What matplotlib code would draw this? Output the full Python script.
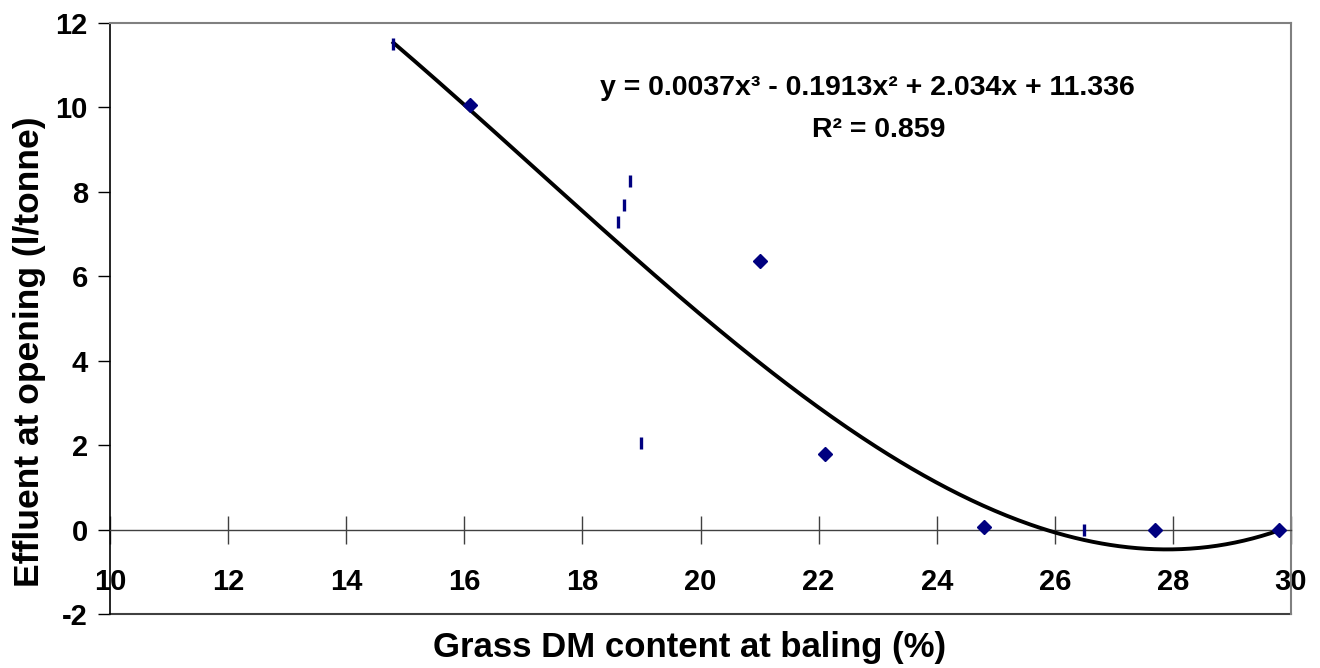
import numpy as np
import matplotlib
matplotlib.use("Agg")
import matplotlib.pyplot as plt

plt.rcParams['font.family'] = ['Liberation Sans', 'DejaVu Sans']
plt.rcParams['font.weight'] = 'bold'
plt.rcParams['axes.unicode_minus'] = False

# diamond points (x = grass DM %, y = effluent l/tonne)
dm_diamond = [16.1, 21.0, 22.1, 24.8, 27.7, 29.8]
eff_diamond = [10.05, 6.36, 1.80, 0.07, 0.0, 0.0]

# points drawn as short vertical marks in the original
dm_bar = [14.8, 18.6, 18.7, 18.8, 19.0, 26.5]
eff_bar = [11.5, 7.28, 7.68, 8.25, 2.06, 0.0]

# trendline y = a x^3 + b x^2 + c x + d
trend_coef = [0.0037, -0.1913, 2.034, 11.336]
trend_range = [14.8, 29.8]

x_ticks = [10, 12, 14, 16, 18, 20, 22, 24, 26, 28, 30]
y_ticks = [-2, 0, 2, 4, 6, 8, 10, 12]

eq_text = "y = 0.0037x\u00b3 - 0.1913x\u00b2 + 2.034x + 11.336"
r2_text = "R\u00b2 = 0.859"

fig = plt.figure(figsize=(13.2, 6.68), dpi=100)
ax = fig.add_axes([110 / 1320, 1 - 614 / 668, (1291 - 110) / 1320, (614 - 23) / 668])

xs = np.linspace(trend_range[0], trend_range[1], 300)
ax.plot(xs, np.polyval(trend_coef, xs), color='black', lw=2.8, zorder=3)

ax.plot(dm_diamond, eff_diamond, 'D', color='#000080', ms=7, ls='none', zorder=4)
ax.plot(dm_bar, eff_bar, '|', color='#000080', ms=9, mew=2.4, ls='none', zorder=4)

ax.set_xlim(10, 30)
ax.set_ylim(-2, 12)
ax.set_xticks(x_ticks)
ax.set_yticks(y_ticks)

# frame like the Excel plot area
ax.spines['left'].set_color('black')
ax.spines['left'].set_linewidth(1.2)
ax.spines['top'].set_color('#808080')
ax.spines['right'].set_color('#808080')
ax.spines['top'].set_linewidth(1.5)
ax.spines['right'].set_linewidth(1.5)
ax.spines['bottom'].set_position(('data', 0))
ax.spines['bottom'].set_color('#404040')
ax.spines['bottom'].set_linewidth(1.0)
ax.axhline(-2, color='#404040', lw=1.5, clip_on=False)

ax.tick_params(axis='x', direction='inout', length=20, width=1, color='#404040',
               pad=18, labelsize=21)
ax.tick_params(axis='y', direction='out', length=9, width=1, color='black',
               pad=7, labelsize=21)
for lab in ax.get_xticklabels() + ax.get_yticklabels():
    lab.set_fontweight('bold')

fig.text(690 / 1320, 1 - 648 / 668, "Grass DM content at baling (%)", ha='center', va='center',
         fontsize=25, fontweight='bold')
fig.text(30 / 1320, 1 - 352 / 668, "Effluent at opening (l/tonne)", ha='center', va='center',
         rotation=90, fontsize=25.5, fontweight='bold')

fig.text(867 / 1320, 1 - 88 / 668, eq_text, ha='center', va='center', fontsize=20.5, fontweight='bold')
fig.text(879 / 1320, 1 - 130 / 668, r2_text, ha='center', va='center', fontsize=20.5, fontweight='bold')

fig.savefig("out.png", dpi=100)
